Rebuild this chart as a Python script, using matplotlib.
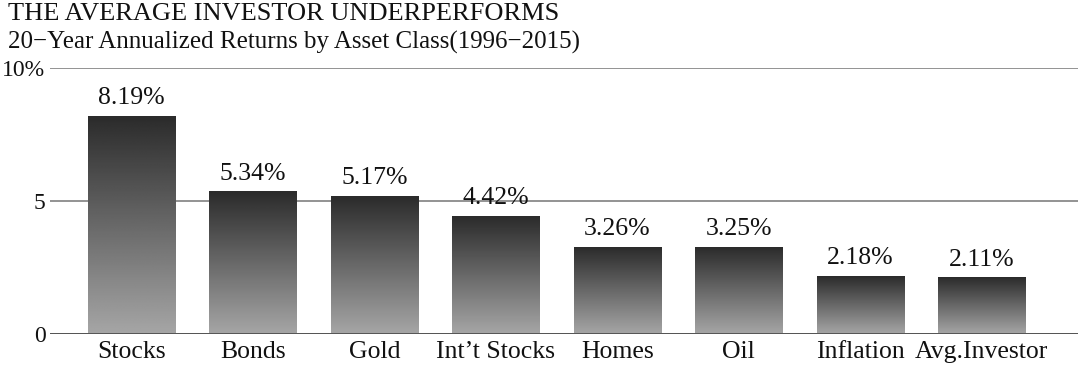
import matplotlib
matplotlib.use("Agg")
import matplotlib.pyplot as plt
import numpy as np

# data
categories = ["Stocks", "Bonds", "Gold", "Int\u2019t Stocks", "Homes", "Oil", "Inflation", "Avg.Investor"]
returns = [8.19, 5.34, 5.17, 4.42, 3.26, 3.25, 2.18, 2.11]
yticks = [0, 5, 10]
ytick_labels = ["0", "5", "10%"]

plt.rcParams['font.family'] = ['Liberation Serif', 'DejaVu Serif']

fig = plt.figure(figsize=(10.8, 3.7), dpi=100)
ax = fig.add_axes([0.046, 0.097, 0.952, 0.719])

width = 0.716
# vertical gradient, dark at top of each bar
grad = np.linspace(0.65, 0.17, 256).reshape(-1, 1)
for i, v in enumerate(returns):
    ax.imshow(grad, cmap='gray', vmin=0, vmax=1, aspect='auto', origin='lower',
              extent=(i - width / 2, i + width / 2, 0, v), zorder=3)
    ax.text(i, v + 0.27, "%.2f%%" % v, ha='center', va='bottom', fontsize=18.5, color='#111111')

ax.set_xlim(-0.671, 7.79)
ax.set_ylim(0, 10)
ax.set_yticks(yticks)
ax.set_yticklabels(ytick_labels, fontsize=17, color='#111111')
ax.set_xticks(range(len(categories)))
ax.set_xticklabels(categories, fontsize=18.5, color='#111111')
ax.tick_params(length=0)
ax.tick_params(axis='x', pad=5)
ax.tick_params(axis='y', pad=3)
for s in ax.spines.values():
    s.set_visible(False)
for y in yticks:
    ax.axhline(y, color='#8a8a8a', lw=1.3, zorder=1)
ax.axhline(0, color='#555555', lw=1.4, zorder=4)

fig.text(0.007, 0.993, "THE AVERAGE INVESTOR UNDERPERFORMS", ha='left', va='top', fontsize=19, color='#111111')
fig.text(0.007, 0.917, "20\u2212Year Annualized Returns by Asset Class(1996\u22122015)", ha='left', va='top',
         fontsize=18, color='#111111')

fig.savefig("out.png", dpi=100)
